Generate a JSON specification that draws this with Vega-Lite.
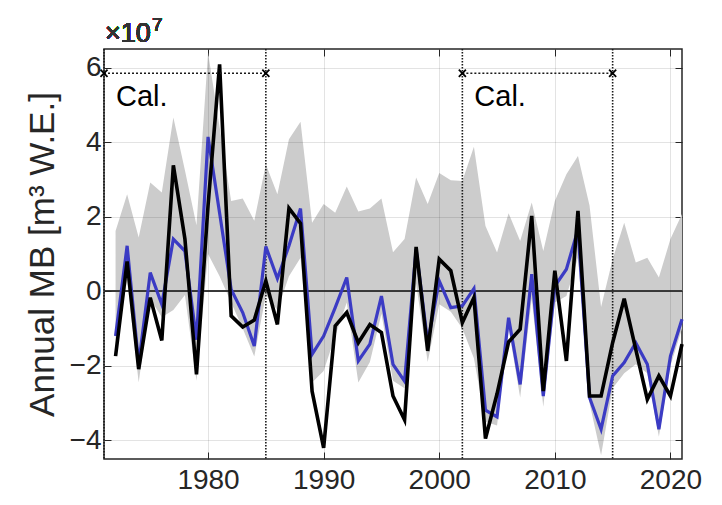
{
  "$schema": "https://vega.github.io/schema/vega-lite/v6.json",
  "width": 578,
  "height": 410,
  "autosize": "none",
  "padding": {"left": 104, "top": 49, "right": 40, "bottom": 46},
  "background": "white",
  "config": {
    "view": {"stroke": "#262626", "strokeWidth": 1.5},
    "font": "Liberation Sans"
  },
  "data": {
    "values": [
      {"year": 1972, "obs": -1.74, "mod": -1.20, "hi": 1.62, "lo": -1.5},
      {"year": 1973, "obs": 0.80, "mod": 1.22, "hi": 2.60, "lo": 0.3},
      {"year": 1974, "obs": -2.09, "mod": -1.95, "hi": 1.44, "lo": -2.45},
      {"year": 1975, "obs": -0.17, "mod": 0.50, "hi": 2.92, "lo": -0.2},
      {"year": 1976, "obs": -1.32, "mod": -0.35, "hi": 2.65, "lo": -0.7},
      {"year": 1977, "obs": 3.38, "mod": 1.40, "hi": 4.66, "lo": -0.5},
      {"year": 1978, "obs": 1.40, "mod": 1.08, "hi": 3.25, "lo": -0.1},
      {"year": 1979, "obs": -2.23, "mod": -1.30, "hi": 1.77, "lo": -2.4},
      {"year": 1980, "obs": 2.3, "mod": 4.14, "hi": 6.4, "lo": 1.0},
      {"year": 1981, "obs": 6.09, "mod": 2.1, "hi": 4.4, "lo": 0.4},
      {"year": 1982, "obs": -0.66, "mod": 0.05, "hi": 2.42, "lo": -0.3},
      {"year": 1983, "obs": -0.96, "mod": -0.57, "hi": 2.49, "lo": -1.0},
      {"year": 1984, "obs": -0.77, "mod": -1.47, "hi": 1.89, "lo": -1.75},
      {"year": 1985, "obs": 0.28, "mod": 1.20, "hi": 3.41, "lo": -0.1},
      {"year": 1986, "obs": -0.89, "mod": 0.34, "hi": 2.60, "lo": -0.5},
      {"year": 1987, "obs": 2.23, "mod": 1.22, "hi": 4.08, "lo": 0.4},
      {"year": 1988, "obs": 1.82, "mod": 2.22, "hi": 4.55, "lo": 0.9},
      {"year": 1989, "obs": -2.68, "mod": -1.69, "hi": 1.84, "lo": -2.45},
      {"year": 1990, "obs": -4.20, "mod": -1.20, "hi": 2.34, "lo": -2.14},
      {"year": 1991, "obs": -0.93, "mod": -0.44, "hi": 2.11, "lo": -1.2},
      {"year": 1992, "obs": -0.57, "mod": 0.37, "hi": 2.81, "lo": -0.3},
      {"year": 1993, "obs": -1.38, "mod": -1.87, "hi": 2.14, "lo": -2.45},
      {"year": 1994, "obs": -0.89, "mod": -1.42, "hi": 2.22, "lo": -1.9},
      {"year": 1995, "obs": -1.11, "mod": -0.13, "hi": 2.49, "lo": -0.6},
      {"year": 1996, "obs": -2.81, "mod": -1.96, "hi": 1.05, "lo": -2.4},
      {"year": 1997, "obs": -3.45, "mod": -2.41, "hi": 1.40, "lo": -2.6},
      {"year": 1998, "obs": 1.19, "mod": 1.13, "hi": 3.05, "lo": 0.2},
      {"year": 1999, "obs": -1.60, "mod": -1.38, "hi": 2.34, "lo": -1.9},
      {"year": 2000, "obs": 0.86, "mod": 0.28, "hi": 3.17, "lo": -0.35},
      {"year": 2001, "obs": 0.55, "mod": -0.44, "hi": 2.98, "lo": -0.55},
      {"year": 2002, "obs": -0.84, "mod": -0.39, "hi": 2.96, "lo": -1.0},
      {"year": 2003, "obs": -0.17, "mod": 0.07, "hi": 3.88, "lo": -1.8},
      {"year": 2004, "obs": -3.95, "mod": -3.19, "hi": 1.75, "lo": -3.5},
      {"year": 2005, "obs": -2.75, "mod": -3.37, "hi": 1.04, "lo": -3.6},
      {"year": 2006, "obs": -1.36, "mod": -0.71, "hi": 2.09, "lo": -1.0},
      {"year": 2007, "obs": -1.02, "mod": -2.50, "hi": 1.35, "lo": -2.85},
      {"year": 2008, "obs": 2.02, "mod": 0.46, "hi": 2.38, "lo": -0.2},
      {"year": 2009, "obs": -2.68, "mod": -2.81, "hi": 1.08, "lo": -3.1},
      {"year": 2010, "obs": 0.55, "mod": 0.14, "hi": 2.42, "lo": -0.3},
      {"year": 2011, "obs": -1.87, "mod": 0.59, "hi": 3.14, "lo": -0.13},
      {"year": 2012, "obs": 2.16, "mod": 1.66, "hi": 3.63, "lo": 0.9},
      {"year": 2013, "obs": -2.81, "mod": -2.85, "hi": 2.3, "lo": -3.0},
      {"year": 2014, "obs": -2.81, "mod": -3.70, "hi": -0.42, "lo": -4.4},
      {"year": 2015, "obs": -1.38, "mod": -2.27, "hi": 0.86, "lo": -2.6},
      {"year": 2016, "obs": -0.20, "mod": -1.91, "hi": 1.84, "lo": -2.2},
      {"year": 2017, "obs": -1.56, "mod": -1.38, "hi": 0.77, "lo": -1.96},
      {"year": 2018, "obs": -2.90, "mod": -1.96, "hi": 0.90, "lo": -2.2},
      {"year": 2019, "obs": -2.27, "mod": -3.70, "hi": 0.37, "lo": -3.9},
      {"year": 2020, "obs": -2.81, "mod": -1.74, "hi": 1.40, "lo": -2.0},
      {"year": 2021, "obs": -1.42, "mod": -0.75, "hi": 2.07, "lo": -1.0}
    ]
  },
  "resolve": {"axis": {"x": "independent", "y": "independent"}},
  "layer": [
    {
      "mark": {"type": "area", "color": "#cccccc", "opacity": 1},
      "encoding": {
        "x": {
          "field": "year", "type": "quantitative",
          "scale": {"domain": [1971, 2021], "nice": false, "zero": false},
          "axis": {
            "orient": "bottom", "values": [1980, 1990, 2000, 2010, 2020], "format": "d",
            "title": null, "grid": true, "gridColor": "#262626", "gridOpacity": 0.13, "gridWidth": 1,
            "domain": false, "tickSize": -7, "tickColor": "#262626", "tickWidth": 1,
            "labelFontSize": 28, "labelColor": "#262626", "labelFont": "Liberation Sans",
            "labelPadding": 14, "labelFlush": false, "zindex": 1
          }
        },
        "y": {
          "field": "lo", "type": "quantitative",
          "scale": {"domain": [-4.5, 6.5], "nice": false, "zero": false},
          "axis": {
            "orient": "left", "values": [-4, -2, 0, 2, 4, 6], "format": "d",
            "title": "Annual MB [m³ W.E.]", "titleFontSize": 35, "titleFontWeight": "normal",
            "titleColor": "#262626", "titleFont": "Liberation Sans", "titlePadding": 9,
            "grid": true, "gridColor": "#262626", "gridOpacity": 0.13, "gridWidth": 1,
            "domain": false, "tickSize": -7, "tickColor": "#262626", "tickWidth": 1,
            "labelFontSize": 28, "labelColor": "#262626", "labelFont": "Liberation Sans",
            "labelPadding": 10, "labelFlush": false, "zindex": 1
          }
        },
        "y2": {"field": "hi"}
      }
    },
    {
      "mark": {"type": "rule", "color": "#3a3a3a", "strokeWidth": 1.5},
      "encoding": {"y": {"datum": 0, "type": "quantitative", "axis": null}}
    },
    {
      "data": {"values": [{"cal_year": 1971}, {"cal_year": 1985}, {"cal_year": 2002}, {"cal_year": 2015}]},
      "mark": {"type": "rule", "color": "#1a1a1a", "strokeWidth": 1.6, "strokeDash": [1.5, 1.5]},
      "encoding": {"x": {"field": "cal_year", "type": "quantitative", "axis": null}}
    },
    {
      "mark": {"type": "line", "color": "#3b3bc4", "strokeWidth": 3.2},
      "encoding": {
        "x": {
          "field": "year", "type": "quantitative",
          "axis": {"orient": "top", "values": [1980, 1990, 2000, 2010, 2020], "labels": false, "title": null,
                   "grid": false, "domain": false, "tickSize": -7, "tickColor": "#262626", "tickWidth": 1}
        },
        "y": {
          "field": "mod", "type": "quantitative",
          "axis": {"orient": "right", "values": [-4, -2, 0, 2, 4, 6], "labels": false, "title": null,
                   "grid": false, "domain": false, "tickSize": -7, "tickColor": "#262626", "tickWidth": 1}
        }
      }
    },
    {
      "mark": {"type": "line", "color": "#000000", "strokeWidth": 3.6},
      "encoding": {
        "x": {"field": "year", "type": "quantitative", "axis": null},
        "y": {"field": "obs", "type": "quantitative", "axis": null}
      }
    },
    {
      "data": {"values": [{"start": 1971, "end": 1985}, {"start": 2002, "end": 2015}]},
      "layer": [
        {
          "mark": {"type": "rule", "color": "#1a1a1a", "strokeWidth": 1.6, "strokeDash": [2, 2]},
          "encoding": {
            "x": {"field": "start", "type": "quantitative", "axis": null},
            "x2": {"field": "end"},
            "y": {"datum": 5.85, "type": "quantitative", "axis": null}
          }
        },
        {
          "mark": {"type": "text", "text": "Cal.", "fontSize": 29, "font": "Liberation Sans", "color": "#000000", "align": "left", "baseline": "middle", "dx": 12},
          "encoding": {
            "x": {"field": "start", "type": "quantitative", "axis": null},
            "y": {"datum": 5.2, "type": "quantitative", "axis": null}
          }
        }
      ]
    },
    {
      "data": {"values": [{"cal_year": 1971}, {"cal_year": 1985}, {"cal_year": 2002}, {"cal_year": 2015}]},
      "mark": {"type": "point", "shape": "M-1,-1L1,1M-1,1L1,-1", "filled": false, "stroke": "#000000", "strokeWidth": 1.8, "size": 50, "opacity": 1, "clip": false},
      "encoding": {
        "x": {"field": "cal_year", "type": "quantitative", "axis": null},
        "y": {"datum": 5.85, "type": "quantitative", "axis": null}
      }
    },
    {
      "mark": {"type": "text", "text": "×10", "fontSize": 27, "font": "Liberation Sans", "color": "#333333", "align": "left", "baseline": "alphabetic", "dx": 1, "dy": -7},
      "encoding": {
        "x": {"datum": 1971, "type": "quantitative", "axis": null},
        "y": {"datum": 6.5, "type": "quantitative", "axis": null}
      }
    },
    {
      "mark": {"type": "text", "text": "7", "fontSize": 19, "font": "Liberation Sans", "color": "#333333", "align": "left", "baseline": "alphabetic", "dx": 48, "dy": -18},
      "encoding": {
        "x": {"datum": 1971, "type": "quantitative", "axis": null},
        "y": {"datum": 6.5, "type": "quantitative", "axis": null}
      }
    }
  ]
}
